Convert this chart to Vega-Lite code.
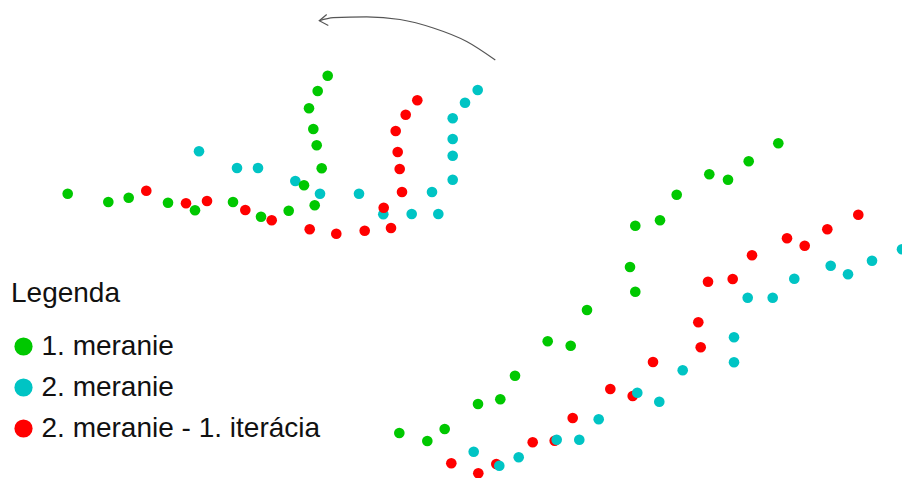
{
  "$schema": "https://vega.github.io/schema/vega-lite/v6.json",
  "width": 902,
  "height": 478,
  "autosize": {"type": "fit", "contains": "padding"},
  "padding": 0,
  "background": "white",
  "config": {"view": {"stroke": null}},
  "datasets": {
    "points": [
      {"x": 199, "y": 151.3, "s": "2. meranie"},
      {"x": 237, "y": 168, "s": "2. meranie"},
      {"x": 258, "y": 168, "s": "2. meranie"},
      {"x": 295.3, "y": 181, "s": "2. meranie"},
      {"x": 320, "y": 193.7, "s": "2. meranie"},
      {"x": 359, "y": 193.7, "s": "2. meranie"},
      {"x": 383.3, "y": 214.3, "s": "2. meranie"},
      {"x": 411.7, "y": 214, "s": "2. meranie"},
      {"x": 438.3, "y": 214, "s": "2. meranie"},
      {"x": 432, "y": 192, "s": "2. meranie"},
      {"x": 452.7, "y": 179.7, "s": "2. meranie"},
      {"x": 452.7, "y": 155.7, "s": "2. meranie"},
      {"x": 452.7, "y": 139, "s": "2. meranie"},
      {"x": 452.7, "y": 118.3, "s": "2. meranie"},
      {"x": 465, "y": 102.7, "s": "2. meranie"},
      {"x": 477.7, "y": 90, "s": "2. meranie"},
      {"x": 67.7, "y": 193.7, "s": "1. meranie"},
      {"x": 108.3, "y": 202, "s": "1. meranie"},
      {"x": 128.7, "y": 197.7, "s": "1. meranie"},
      {"x": 168, "y": 202.7, "s": "1. meranie"},
      {"x": 195, "y": 210.3, "s": "1. meranie"},
      {"x": 233, "y": 202, "s": "1. meranie"},
      {"x": 261, "y": 216.7, "s": "1. meranie"},
      {"x": 288.7, "y": 210.7, "s": "1. meranie"},
      {"x": 304, "y": 185.3, "s": "1. meranie"},
      {"x": 314.7, "y": 205.3, "s": "1. meranie"},
      {"x": 321.7, "y": 168.3, "s": "1. meranie"},
      {"x": 316.7, "y": 145.3, "s": "1. meranie"},
      {"x": 313.3, "y": 129, "s": "1. meranie"},
      {"x": 309, "y": 108.3, "s": "1. meranie"},
      {"x": 317.7, "y": 91, "s": "1. meranie"},
      {"x": 327.7, "y": 75.7, "s": "1. meranie"},
      {"x": 399.3, "y": 433, "s": "1. meranie"},
      {"x": 427.3, "y": 441, "s": "1. meranie"},
      {"x": 444.7, "y": 429, "s": "1. meranie"},
      {"x": 478, "y": 404, "s": "1. meranie"},
      {"x": 500.3, "y": 399.3, "s": "1. meranie"},
      {"x": 515, "y": 375.7, "s": "1. meranie"},
      {"x": 547.7, "y": 341.3, "s": "1. meranie"},
      {"x": 570.7, "y": 345.7, "s": "1. meranie"},
      {"x": 587, "y": 310, "s": "1. meranie"},
      {"x": 635.3, "y": 291.7, "s": "1. meranie"},
      {"x": 630, "y": 267, "s": "1. meranie"},
      {"x": 635.3, "y": 225.7, "s": "1. meranie"},
      {"x": 660, "y": 220.3, "s": "1. meranie"},
      {"x": 676.7, "y": 194.7, "s": "1. meranie"},
      {"x": 709.3, "y": 174.3, "s": "1. meranie"},
      {"x": 728, "y": 179.7, "s": "1. meranie"},
      {"x": 748.7, "y": 161.3, "s": "1. meranie"},
      {"x": 778.3, "y": 143.3, "s": "1. meranie"},
      {"x": 146.3, "y": 190.7, "s": "2. meranie - 1. iterácia"},
      {"x": 186, "y": 203.3, "s": "2. meranie - 1. iterácia"},
      {"x": 207, "y": 201, "s": "2. meranie - 1. iterácia"},
      {"x": 245.3, "y": 210, "s": "2. meranie - 1. iterácia"},
      {"x": 271.7, "y": 220.3, "s": "2. meranie - 1. iterácia"},
      {"x": 309.7, "y": 229.3, "s": "2. meranie - 1. iterácia"},
      {"x": 336.3, "y": 233.7, "s": "2. meranie - 1. iterácia"},
      {"x": 364.7, "y": 230.7, "s": "2. meranie - 1. iterácia"},
      {"x": 391, "y": 228, "s": "2. meranie - 1. iterácia"},
      {"x": 383.7, "y": 207.7, "s": "2. meranie - 1. iterácia"},
      {"x": 402, "y": 192, "s": "2. meranie - 1. iterácia"},
      {"x": 399.7, "y": 169, "s": "2. meranie - 1. iterácia"},
      {"x": 397.7, "y": 152, "s": "2. meranie - 1. iterácia"},
      {"x": 395.7, "y": 131, "s": "2. meranie - 1. iterácia"},
      {"x": 405.7, "y": 114.7, "s": "2. meranie - 1. iterácia"},
      {"x": 417.3, "y": 100.3, "s": "2. meranie - 1. iterácia"},
      {"x": 451.3, "y": 463.3, "s": "2. meranie - 1. iterácia"},
      {"x": 478.3, "y": 473.3, "s": "2. meranie - 1. iterácia"},
      {"x": 496.3, "y": 464, "s": "2. meranie - 1. iterácia"},
      {"x": 532.7, "y": 442.3, "s": "2. meranie - 1. iterácia"},
      {"x": 554.7, "y": 440.7, "s": "2. meranie - 1. iterácia"},
      {"x": 572.7, "y": 418, "s": "2. meranie - 1. iterácia"},
      {"x": 610.3, "y": 389, "s": "2. meranie - 1. iterácia"},
      {"x": 632.7, "y": 396, "s": "2. meranie - 1. iterácia"},
      {"x": 653, "y": 362, "s": "2. meranie - 1. iterácia"},
      {"x": 700.7, "y": 347.3, "s": "2. meranie - 1. iterácia"},
      {"x": 698.3, "y": 322.3, "s": "2. meranie - 1. iterácia"},
      {"x": 708, "y": 281.7, "s": "2. meranie - 1. iterácia"},
      {"x": 732.7, "y": 279, "s": "2. meranie - 1. iterácia"},
      {"x": 752, "y": 255.3, "s": "2. meranie - 1. iterácia"},
      {"x": 787, "y": 238.3, "s": "2. meranie - 1. iterácia"},
      {"x": 804.7, "y": 245.7, "s": "2. meranie - 1. iterácia"},
      {"x": 827.3, "y": 229.3, "s": "2. meranie - 1. iterácia"},
      {"x": 858.3, "y": 214.7, "s": "2. meranie - 1. iterácia"},
      {"x": 473.7, "y": 451.7, "s": "2. meranie"},
      {"x": 499.3, "y": 465.7, "s": "2. meranie"},
      {"x": 518.7, "y": 457.3, "s": "2. meranie"},
      {"x": 556.7, "y": 439.7, "s": "2. meranie"},
      {"x": 579.3, "y": 439.7, "s": "2. meranie"},
      {"x": 598.7, "y": 419.3, "s": "2. meranie"},
      {"x": 637.3, "y": 392.7, "s": "2. meranie"},
      {"x": 659.3, "y": 401.7, "s": "2. meranie"},
      {"x": 682.7, "y": 370.3, "s": "2. meranie"},
      {"x": 734, "y": 362.3, "s": "2. meranie"},
      {"x": 734, "y": 337.3, "s": "2. meranie"},
      {"x": 747.7, "y": 297.7, "s": "2. meranie"},
      {"x": 772.7, "y": 297.7, "s": "2. meranie"},
      {"x": 794.3, "y": 278.7, "s": "2. meranie"},
      {"x": 830.7, "y": 265.7, "s": "2. meranie"},
      {"x": 848, "y": 274.3, "s": "2. meranie"},
      {"x": 872, "y": 260.7, "s": "2. meranie"},
      {"x": 902, "y": 249.3, "s": "2. meranie"}
    ],
    "arrow": [
      {"x": 319.3, "y": 20.7},
      {"x": 333.3, "y": 17.6},
      {"x": 366.7, "y": 16.8},
      {"x": 400, "y": 19.5},
      {"x": 433.3, "y": 28},
      {"x": 466.7, "y": 41.5},
      {"x": 495.3, "y": 60}
    ],
    "head": [
      {"i": 1, "x": 326.7, "y": 14.5},
      {"i": 2, "x": 319.3, "y": 20.7},
      {"i": 3, "x": 328.3, "y": 25.5}
    ]
  },
  "layer": [
    {
      "data": {"name": "arrow"},
      "mark": {"type": "line", "interpolate": "monotone", "color": "#555555", "strokeWidth": 1.2},
      "encoding": {
        "x": {"field": "x", "type": "quantitative", "scale": {"domain": [0, 902], "nice": false, "zero": false}, "axis": null},
        "y": {"field": "y", "type": "quantitative", "scale": {"domain": [0, 478], "nice": false, "zero": false, "reverse": true}, "axis": null}
      }
    },
    {
      "data": {"name": "head"},
      "mark": {"type": "line", "color": "#555555", "strokeWidth": 1.2},
      "encoding": {
        "x": {"field": "x", "type": "quantitative"},
        "y": {"field": "y", "type": "quantitative"},
        "order": {"field": "i"}
      }
    },
    {
      "data": {"name": "points"},
      "mark": {"type": "circle", "size": 113, "opacity": 1, "clip": true},
      "encoding": {
        "x": {"field": "x", "type": "quantitative"},
        "y": {"field": "y", "type": "quantitative"},
        "color": {
          "field": "s",
          "type": "nominal",
          "scale": {
            "domain": ["1. meranie", "2. meranie", "2. meranie - 1. iterácia"],
            "range": ["#00c800", "#00c4c4", "#ff0000"]
          },
          "legend": {
            "title": "Legenda",
            "orient": "none",
            "legendX": 11,
            "legendY": 280,
            "padding": 0,
            "titleFont": "Liberation Sans",
            "titleFontSize": 28,
            "titleFontWeight": "normal",
            "titleColor": "#111111",
            "titlePadding": 24.5,
            "labelFont": "Liberation Sans",
            "labelFontSize": 28,
            "labelColor": "#111111",
            "labelOffset": 4,
            "labelLimit": 500,
            "symbolType": "circle",
            "symbolSize": 330,
            "symbolOffset": -1.5,
            "symbolStrokeWidth": 0,
            "symbolOpacity": 1,
            "rowPadding": 13
          }
        }
      }
    }
  ]
}
